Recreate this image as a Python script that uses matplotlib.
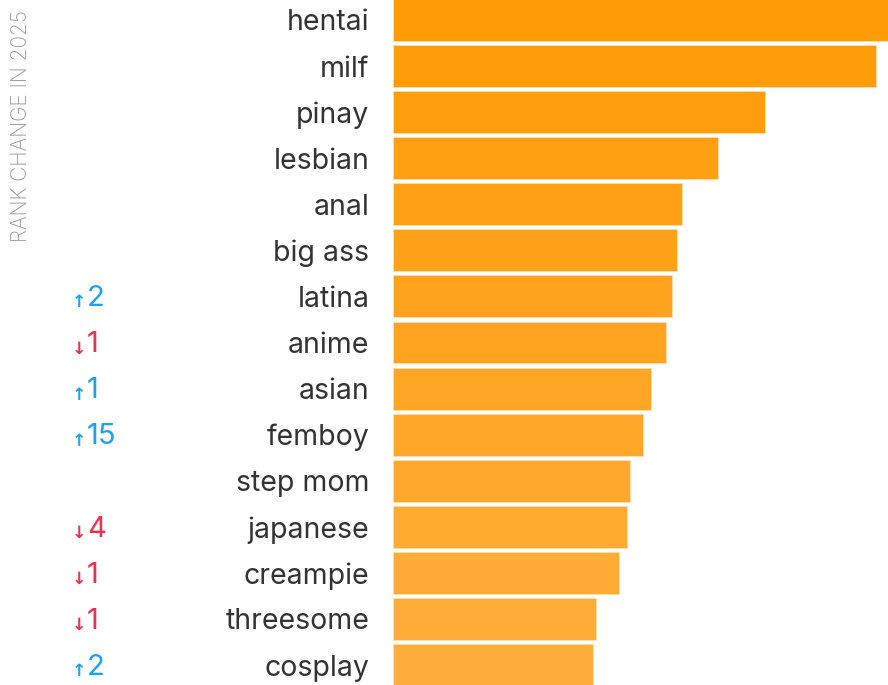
import matplotlib.pyplot as plt
import numpy as np
from matplotlib.transforms import blended_transform_factory

plt.rcParams['font.family'] = ['Inter', 'DejaVu Sans']

terms = ['hentai', 'milf', 'pinay', 'lesbian', 'anal', 'big ass', 'latina',
         'anime', 'asian', 'femboy', 'step mom', 'japanese', 'creampie',
         'threesome', 'cosplay']
popularity = [100, 97.6, 75.2, 65.7, 58.4, 57.4, 56.4, 55.2, 52.1, 50.5,
              47.9, 47.3, 45.7, 41.0, 40.4]
# rank change vs. previous year, 0 = no change
rank_change = [0, 0, 0, 0, 0, 0, 2, -1, 1, 15, 0, -4, -1, -1, 2]

W, H = 888, 685
fig = plt.figure(figsize=(W / 100, H / 100), dpi=100)
ax = fig.add_axes([393 / W, 0, 1 - 393 / W, 1])

n = len(terms)
y = np.arange(n)
top = np.array([255, 155, 5]) / 255
bottom = np.array([255, 174, 60]) / 255
colors = [top + (bottom - top) * i / (n - 1) for i in range(n)]

ax.barh(y, popularity, height=0.91, color=colors,
        edgecolor=(1, 0.88, 0.7), linewidth=0.6)

ax.set_xlim(0, 100)
ax.set_ylim(n - 1 + 0.434, -0.434)
ax.set_yticks(y)
ax.set_yticklabels(terms, fontsize=20.5, color='#333333')
ax.tick_params(axis='y', length=0, pad=17)
ax.set_xticks([])
for s in ax.spines.values():
    s.set_visible(False)

btrans = blended_transform_factory(fig.transFigure, ax.transData)
for i, ch in enumerate(rank_change):
    if ch == 0:
        continue
    col = '#1ea0f5' if ch > 0 else '#f0304c'
    arrow = '↑' if ch > 0 else '↓'
    ax.text(79 / W, i + 0.13, arrow, transform=btrans, ha='center', va='center',
            fontsize=12.5, color=col, family='DejaVu Sans', fontweight='bold')
    ax.text(87 / W, i + 0.05, str(abs(ch)), transform=btrans, ha='left',
            va='center', fontsize=21, color=col)

fig.text(21 / W, 1 - 10 / H, 'RANK CHANGE IN 2025', rotation=90, ha='center',
         va='top', fontsize=15, color='#9a9a9a', fontweight='light')

fig.savefig('out.png', dpi=100)
